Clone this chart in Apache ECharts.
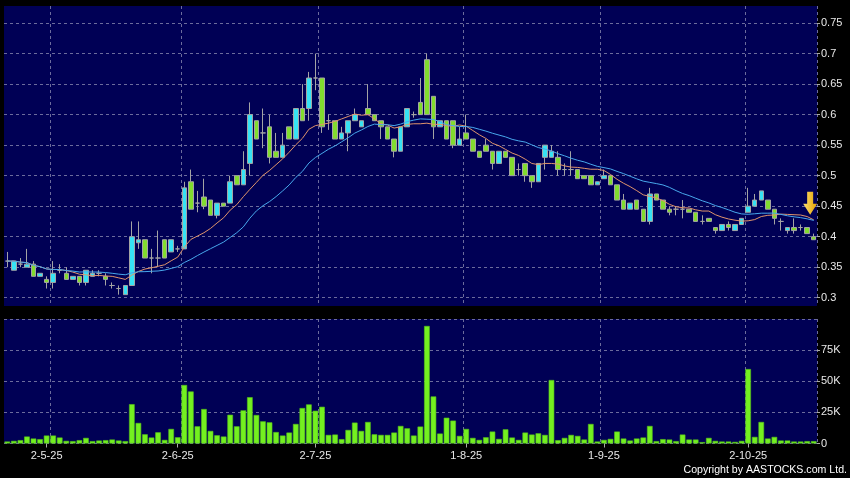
<!DOCTYPE html>
<html>
<head>
<meta charset="utf-8">
<script src="https://cdn.jsdelivr.net/npm/echarts@6/dist/echarts.min.js"></script>
<style>
html,body{margin:0;padding:0;background:#000;}
#c{width:850px;height:478px;}
</style>
</head>
<body>
<div id="c"></div>
<script>
// ---- data ----
const dates = ['22-4-25','23-4-25','24-4-25','25-4-25','28-4-25','29-4-25','30-4-25',
'2-5-25','6-5-25','7-5-25','8-5-25','9-5-25','12-5-25','13-5-25','14-5-25','15-5-25','16-5-25','19-5-25','20-5-25','21-5-25','22-5-25','23-5-25','26-5-25','27-5-25','28-5-25','29-5-25','30-5-25',
'2-6-25','3-6-25','4-6-25','5-6-25','6-6-25','9-6-25','10-6-25','11-6-25','12-6-25','13-6-25','16-6-25','17-6-25','18-6-25','19-6-25','20-6-25','23-6-25','24-6-25','25-6-25','26-6-25','27-6-25','30-6-25',
'2-7-25','3-7-25','4-7-25','7-7-25','8-7-25','9-7-25','10-7-25','11-7-25','14-7-25','15-7-25','16-7-25','17-7-25','18-7-25','21-7-25','22-7-25','23-7-25','24-7-25','25-7-25','28-7-25','29-7-25','30-7-25','31-7-25',
'1-8-25','4-8-25','5-8-25','6-8-25','7-8-25','8-8-25','11-8-25','12-8-25','13-8-25','14-8-25','15-8-25','18-8-25','19-8-25','20-8-25','21-8-25','22-8-25','25-8-25','26-8-25','27-8-25','28-8-25','29-8-25',
'1-9-25','2-9-25','3-9-25','4-9-25','5-9-25','8-9-25','9-9-25','10-9-25','11-9-25','12-9-25','15-9-25','16-9-25','17-9-25','18-9-25','19-9-25','22-9-25','23-9-25','24-9-25','25-9-25','26-9-25','29-9-25','30-9-25',
'2-10-25','3-10-25','6-10-25','8-10-25','9-10-25','10-10-25','13-10-25','14-10-25','15-10-25','16-10-25','17-10-25'];

const opens = [0.36,0.345,0.355,0.35,0.355,0.335,0.33,0.325,0.345,0.34,0.33,0.335,0.325,0.335,0.34,0.335,0.32,0.315,0.305,0.32,
0.39,0.395,0.365,0.365,0.395,0.375,0.38,0.38,0.49,0.455,0.465,0.46,0.435,0.455,0.455,0.50,0.485,0.52,0.59,0.57,
0.58,0.54,0.53,0.58,0.56,0.61,0.61,0.66,0.66,0.59,0.59,0.56,0.57,0.59,0.58,0.61,0.60,0.59,0.58,0.56,
0.54,0.58,0.60,0.62,0.69,0.63,0.58,0.59,0.59,0.55,0.57,0.56,0.54,0.55,0.54,0.52,0.54,0.53,0.51,0.52,
0.50,0.49,0.53,0.53,0.53,0.51,0.51,0.51,0.50,0.50,0.485,0.495,0.50,0.485,0.46,0.445,0.46,0.445,0.425,0.47,
0.46,0.445,0.445,0.445,0.445,0.44,0.425,0.43,0.415,0.41,0.42,0.41,0.42,0.44,0.45,0.46,0.46,0.445,0.425,0.41,
0.415,0.415,0.415,0.40];
const closes = [0.36,0.36,0.355,0.355,0.335,0.34,0.325,0.34,0.345,0.33,0.335,0.325,0.345,0.34,0.34,0.33,0.32,0.315,0.32,0.40,
0.395,0.365,0.365,0.365,0.365,0.395,0.38,0.48,0.445,0.455,0.45,0.435,0.455,0.45,0.49,0.485,0.51,0.60,0.56,0.57,
0.53,0.53,0.55,0.56,0.61,0.59,0.66,0.66,0.58,0.59,0.56,0.57,0.59,0.60,0.59,0.60,0.59,0.58,0.56,0.54,
0.58,0.61,0.60,0.60,0.60,0.58,0.59,0.56,0.55,0.56,0.56,0.54,0.53,0.54,0.52,0.54,0.53,0.50,0.51,0.50,
0.49,0.52,0.55,0.54,0.51,0.51,0.51,0.495,0.495,0.485,0.49,0.50,0.485,0.46,0.445,0.455,0.445,0.425,0.47,0.46,
0.445,0.44,0.445,0.445,0.44,0.425,0.425,0.425,0.41,0.42,0.415,0.42,0.43,0.45,0.46,0.475,0.445,0.43,0.425,0.415,
0.41,0.415,0.405,0.395];
const lows = [0.35,0.345,0.35,0.35,0.335,0.335,0.315,0.315,0.34,0.33,0.33,0.32,0.32,0.335,0.335,0.32,0.315,0.305,0.305,0.32,
0.38,0.365,0.34,0.35,0.365,0.375,0.375,0.38,0.445,0.44,0.445,0.435,0.43,0.45,0.455,0.485,0.485,0.50,0.56,0.545,
0.52,0.53,0.53,0.56,0.56,0.59,0.59,0.64,0.57,0.575,0.56,0.56,0.54,0.59,0.58,0.60,0.59,0.56,0.56,0.53,
0.54,0.58,0.595,0.60,0.60,0.56,0.58,0.56,0.545,0.55,0.56,0.54,0.53,0.54,0.51,0.52,0.53,0.50,0.50,0.49,
0.48,0.49,0.51,0.53,0.50,0.50,0.50,0.495,0.495,0.485,0.485,0.495,0.485,0.46,0.445,0.445,0.445,0.425,0.42,0.46,
0.445,0.435,0.435,0.43,0.44,0.425,0.42,0.425,0.405,0.41,0.41,0.41,0.42,0.44,0.45,0.46,0.445,0.42,0.41,0.405,
0.405,0.41,0.405,0.395];
const highs = [0.375,0.36,0.365,0.38,0.36,0.34,0.335,0.36,0.355,0.35,0.335,0.335,0.345,0.345,0.345,0.34,0.325,0.32,0.32,0.425,
0.425,0.395,0.38,0.41,0.395,0.395,0.385,0.49,0.51,0.475,0.495,0.46,0.455,0.455,0.50,0.50,0.54,0.62,0.59,0.61,
0.60,0.57,0.57,0.58,0.61,0.65,0.67,0.70,0.66,0.60,0.59,0.58,0.59,0.61,0.59,0.65,0.60,0.59,0.58,0.56,
0.58,0.61,0.605,0.66,0.70,0.63,0.59,0.59,0.59,0.58,0.60,0.56,0.54,0.56,0.54,0.54,0.54,0.53,0.52,0.52,
0.50,0.52,0.55,0.55,0.54,0.52,0.54,0.51,0.50,0.50,0.49,0.51,0.50,0.485,0.47,0.455,0.46,0.445,0.48,0.47,
0.46,0.45,0.45,0.46,0.445,0.44,0.435,0.43,0.415,0.42,0.425,0.42,0.43,0.48,0.47,0.475,0.46,0.445,0.43,0.415,
0.43,0.42,0.415,0.405];
const volumes = [1600,2100,2700,5600,4000,3500,6400,6400,4800,2100,1900,2700,4500,1900,2400,2700,3200,2400,1900,31600,
16500,7400,4800,9000,2900,11700,5000,47000,41800,13800,27700,10100,6600,5600,23100,13800,26600,37200,22900,17800,
17000,9200,6400,8800,15700,28500,31400,26300,29500,6900,7200,3500,10900,16800,10100,17300,7400,6900,6900,8800,
14100,12200,6400,13600,94400,37800,8000,20700,18400,6100,11700,4500,2900,5000,9600,3700,11400,4800,2900,8800,
7200,8200,6900,51000,2700,4500,6900,6100,3200,15700,1600,2900,3700,9600,4000,2400,4000,4800,14100,1900,
3500,3200,1900,7200,3200,3200,1100,4500,2100,1600,1600,1300,2100,59800,5300,17300,4000,5300,2400,2400,
1600,1600,1900,1900];

const priceTicks = [0.3,0.35,0.4,0.45,0.5,0.55,0.6,0.65,0.7,0.75];
const labelIdx = [6,26,47,70,91,113];
const labelText = ['2-5-25','2-6-25','2-7-25','1-8-25','1-9-25','2-10-25'];
const gridIdx = [7,27,48,70,91,113];
const markIdx = 122;

// ---- build ----
const candles = opens.map((o,i)=>[o, closes[i], lows[i], highs[i]]);
function sma(n){
  return closes.map((c,i)=>{
    const s = Math.max(0,i-n+1); let t=0;
    for(let k=s;k<=i;k++) t+=closes[k];
    return +(t/(i-s+1)).toFixed(4);
  });
}
const FONT = 'Liberation Sans, Arial, sans-serif';
const gridLine = {show:true, lineStyle:{color:'#6c6c9c', type:[3,3], width:1}};
const chart = echarts.init(document.getElementById('c'), null, {renderer:'canvas'});
chart.setOption({
  animation:false,
  backgroundColor:'#000000',
  grid:[
    {left:4, right:33, top:6, height:300, backgroundColor:'#000055', show:true, borderWidth:0},
    {left:4, right:33, top:319, height:124.5, backgroundColor:'#000055', show:true, borderWidth:0}
  ],
  xAxis:[
    {type:'category', gridIndex:0, data:dates, boundaryGap:true,
     axisLine:{show:false}, axisTick:{show:false}, axisLabel:{show:false},
     splitLine:Object.assign({interval:(i)=>gridIdx.includes(i)}, gridLine)},
    {type:'category', gridIndex:1, data:dates, boundaryGap:true,
     axisLine:{show:false},
     axisTick:{show:true, alignWithLabel:true, length:4, interval:(i)=>labelIdx.includes(i), lineStyle:{color:'#aaaaaa'}},
     axisLabel:{show:true, interval:(i)=>labelIdx.includes(i), color:'#e8e8e8', fontSize:11, fontFamily:FONT, margin:7,
       formatter:(v,i)=>labelText[labelIdx.indexOf(i)] || ''},
     splitLine:{show:false}},
    {type:'category', gridIndex:1, data:dates, boundaryGap:true, position:'bottom',
     axisLine:{show:false}, axisTick:{show:false}, axisLabel:{show:false},
     splitLine:Object.assign({interval:(i)=>gridIdx.includes(i)}, gridLine)}
  ],
  yAxis:[
    {type:'value', gridIndex:0, position:'right', min:0.2864, max:0.778, scale:true,
     axisLine:{show:false},
     axisTick:{show:true, length:3, lineStyle:{color:'#aaaaaa'}, customValues:priceTicks},
     axisLabel:{show:true, color:'#e8e8e8', fontSize:11, fontFamily:FONT, margin:4, customValues:priceTicks,
       formatter:(v)=>String(+v.toFixed(2))},
     splitLine:gridLine},
    {type:'value', gridIndex:1, position:'right', min:0, max:100000, interval:25000,
     axisLine:{show:false},
     axisTick:{show:true, length:3, lineStyle:{color:'#aaaaaa'}},
     axisLabel:{show:true, color:'#e8e8e8', fontSize:11, fontFamily:FONT, margin:4, showMaxLabel:false,
       formatter:(v)=> v===0 ? '0' : (v/1000)+'K'},
     splitLine:gridLine}
  ],
  series:[
    {type:'candlestick', xAxisIndex:0, yAxisIndex:0, data:candles, barWidth:5,
     itemStyle:{color:'#36e2f4', color0:'#82dc2e', borderColor:'#a4a4a4', borderColor0:'#a4a4a4', borderColorDoji:'#a4a4a4', borderWidth:1},
     markPoint:{
       symbol:'path://M4,0 L10,0 L10,12 L14,12 L7,23 L0,12 L4,12 Z',
       symbolSize:[14,23], symbolOffset:[3,0], label:{show:false},
       itemStyle:{color:new echarts.graphic.LinearGradient(0,0,1,0,[{offset:0,color:'#ffe070'},{offset:1,color:'#e0a000'}])},
       data:[{coord:[markIdx, 0.4548]}]
     }},
    {type:'line', xAxisIndex:0, yAxisIndex:0, data:sma(10), showSymbol:false, symbol:'none',
     lineStyle:{color:'#e0946c', width:1}, z:3},
    {type:'line', xAxisIndex:0, yAxisIndex:0, data:sma(20), showSymbol:false, symbol:'none',
     lineStyle:{color:'#48a8ec', width:1}, z:3},
    {type:'bar', xAxisIndex:1, yAxisIndex:1, data:volumes, barWidth:5.6,
     itemStyle:{color:'#74f020', borderColor:'#58c418', borderWidth:0.6}}
  ],
  graphic:[
    {type:'text', right:3, bottom:2, style:{text:'Copyright by AASTOCKS.com Ltd.', fill:'#ffffff', font:'10.6px '+FONT}}
  ]
});
</script>
</body>
</html>
